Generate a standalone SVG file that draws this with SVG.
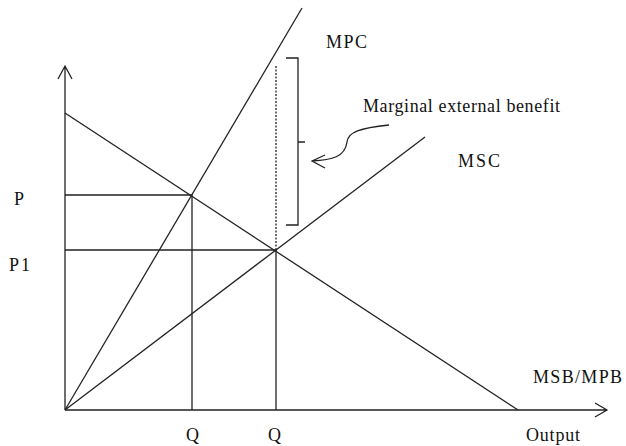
<svg xmlns="http://www.w3.org/2000/svg" width="626" height="446" viewBox="0 0 626 446">
<style>
.l{stroke:#222;stroke-width:1.3;fill:none}
.t{font-family:"Liberation Serif","Times New Roman",serif;font-size:18px;fill:#111}
</style>
<rect width="626" height="446" fill="#fff"/>
<g id="connectors">
<path class="l" d="M65,410 V66 M58,79 L65,66 L72,79"/>
<path class="l" d="M65,410 H607 M595,403 L607,410 L595,417"/>
<path class="l" d="M65,410 L302,8"/>
<path class="l" d="M65,410 L425,137"/>
<path class="l" d="M65,113 L518,410"/>
<path class="l" d="M65,195 H192 V410"/>
<path class="l" d="M65,250 H276 V410"/>
<path class="l" d="M276,250 V65" stroke-dasharray="2,1.5"/>
<path class="l" d="M286,58 H298 V225 H286 M298,142 H305"/>
<path class="l" d="M389,125 C360,128 348,132 347,142 C345,157 332,160 312,161 M325,155 L312,161 L325,168"/>
</g>
<g id="labels">
<text class="t" x="326" y="48" textLength="41">MPC</text>
<text class="t" x="363" y="112" textLength="197">Marginal external benefit</text>
<text class="t" x="458" y="167" textLength="42">MSC</text>
<text class="t" x="533" y="383" textLength="89">MSB/MPB</text>
<text class="t" x="526" y="441" textLength="54">Output</text>
<text class="t" x="186" y="441">Q</text>
<text class="t" x="268" y="441">Q</text>
<text class="t" x="14" y="205">P</text>
<text class="t" x="9" y="271" textLength="21">P1</text>
</g>
</svg>
